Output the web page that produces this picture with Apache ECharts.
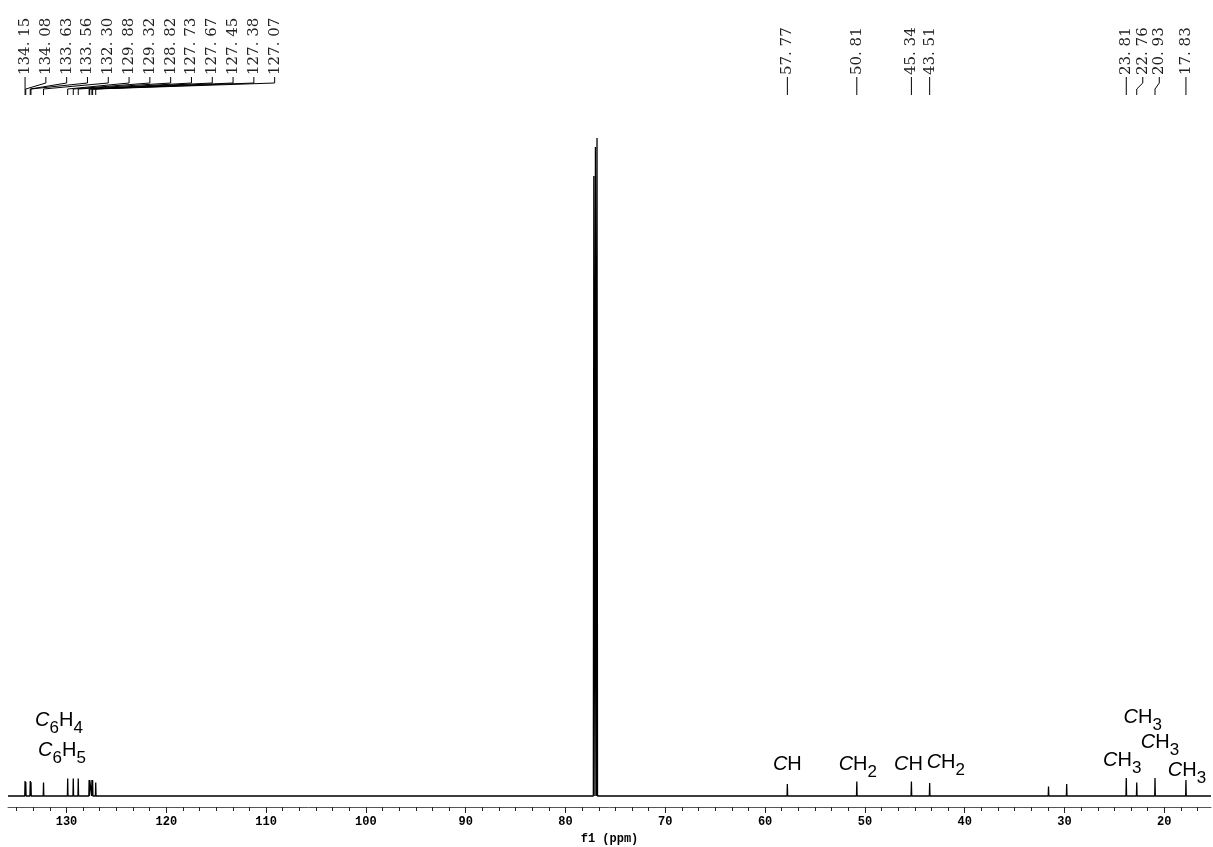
<!DOCTYPE html>
<html>
<head>
<meta charset="utf-8">
<script src="https://cdn.jsdelivr.net/npm/echarts@6/dist/echarts.min.js"></script>
<style>
  html, body { margin: 0; padding: 0; background: #fff; }
  #chart { width: 1213px; height: 847px; }
</style>
</head>
<body>
<div id="chart"></div>
<script>
// 13C NMR (CDCl3) peak list: chemical shifts in ppm and peak heights (arbitrary units)
const aromaticShifts  = [134.15, 134.08, 133.63, 133.56, 132.30, 129.88, 129.32, 128.82, 127.73, 127.67, 127.45, 127.38, 127.07];
const aromaticHeights = [15, 14, 15, 14, 13.5, 17.5, 17.5, 17.5, 16, 16, 16, 16, 13.5];
const aliphaticShifts  = [57.77, 50.81, 45.34, 43.51, 23.81, 22.76, 20.93, 17.83];
const aliphaticHeights = [12, 14.5, 14.5, 13, 18, 13.5, 18, 16];
const solventShifts  = [77.16, 77.00, 76.84];
const solventHeights = [619, 648, 657];
const impurityShifts  = [31.60, 29.78];
const impurityHeights = [9.5, 12];
const xTickLabels = [130, 120, 110, 100, 90, 80, 70, 60, 50, 40, 30, 20];

// group assignments written under the baseline
const groupNames = ['C6H4', 'C6H5', 'CH', 'CH2', 'CH', 'CH2', 'CH3', 'CH3', 'CH3', 'CH3'];
const groupPeaks = [134.15, 134.15, 57.77, 50.81, 45.34, 43.51, 23.81, 22.76, 20.93, 17.83];

const X_MIN = 15.32, X_MAX = 135.86;

// spectrum trace: a narrow spike for every peak on a flat baseline
function buildTrace() {
  const peaks = [];
  const add = (s, h, hw) => s.forEach((v, i) => peaks.push([v, h[i], hw]));
  add(aromaticShifts, aromaticHeights, 0.03);
  add(aliphaticShifts, aliphaticHeights, 0.03);
  add(solventShifts, solventHeights, 0.05);
  add(impurityShifts, impurityHeights, 0.03);
  peaks.sort((a, b) => a[0] - b[0]);
  const pts = [[X_MIN, 0]];
  peaks.forEach(([v, h, hw]) => {
    pts.push([v - hw, 0], [v, h], [v + hw, 0]);
  });
  pts.push([X_MAX, 0]);
  return pts;
}

// minor ticks every 10/6 ppm between the labelled ticks
const minorTicks = [];
for (let j = -20; j <= 80; j++) {
  const v = 130 - j * 10 / 6;
  if (j % 6 !== 0 && v > X_MIN && v < X_MAX) minorTicks.push(+v.toFixed(4));
}

const chart = echarts.init(document.getElementById('chart'), null, { renderer: 'canvas' });

const axisFont = { fontFamily: 'Liberation Mono', fontWeight: 'bold', fontSize: 12, color: '#000' };

chart.setOption({
  animation: false,
  backgroundColor: '#fff',
  grid: { left: 8, right: 2, top: 125, bottom: 40, containLabel: false, outerBoundsMode: 'none' },
  xAxis: [
    {
      type: 'value', inverse: true, min: X_MIN, max: X_MAX, position: 'bottom',
      name: 'f1 (ppm)', nameLocation: 'middle', nameGap: 25,
      nameTextStyle: axisFont,
      axisLine: { show: true, onZero: false, lineStyle: { color: '#555', width: 1 } },
      axisTick: { show: true, customValues: xTickLabels, length: 6, lineStyle: { color: '#222' } },
      axisLabel: { show: true, customValues: xTickLabels, margin: 9, ...axisFont },
      splitLine: { show: false }
    },
    {
      type: 'value', inverse: true, min: X_MIN, max: X_MAX, position: 'bottom',
      axisLine: { show: false, onZero: false },
      axisTick: { show: true, customValues: minorTicks, length: 4, lineStyle: { color: '#222' } },
      axisLabel: { show: false },
      splitLine: { show: false }
    }
  ],
  yAxis: { type: 'value', min: -11, max: 670, show: false },
  series: [{
    type: 'line', xAxisIndex: 0, yAxisIndex: 0,
    data: buildTrace(), symbol: 'none', silent: true,
    lineStyle: { color: '#000', width: 1.3 }
  }]
});

// peak labels along the top with leader lines down to each peak
const px = v => chart.convertToPixel({ gridIndex: 0 }, [v, 0])[0];
const graphics = [];

function spread(list, gap) {
  const out = [];
  let prev = -Infinity;
  list.forEach(p => { const q = Math.max(p, prev + gap); out.push(q); prev = q; });
  return out;
}

function peakLabels(shifts, gap) {
  const peakX = shifts.map(px);
  const labelX = spread(peakX, gap);
  shifts.forEach((v, i) => {
    graphics.push({
      type: 'text', x: labelX[i], y: 75, rotation: Math.PI / 2,
      style: {
        text: v.toFixed(2).replace('.', '. '),
        font: '15px "DejaVu Serif"', fill: '#222',
        align: 'left', verticalAlign: 'middle',
        textAlign: 'left', textVerticalAlign: 'middle'
      }
    });
    graphics.push({
      type: 'polyline',
      shape: { points: [[labelX[i], 77], [labelX[i], 83], [peakX[i], 89], [peakX[i], 95]] },
      style: { stroke: '#000', lineWidth: 1, fill: null }
    });
  });
}
peakLabels(aromaticShifts, 20.8);
peakLabels(aliphaticShifts, 16.5);

// group names: italic C, subscript counts
function chem(f) {
  let out = '';
  for (let k = 0; k < f.length; k++) {
    const ch = f[k];
    if (k === 0 && ch === 'C') out += '{i|C}';
    else if (/[0-9]/.test(ch)) out += '{s|' + ch + '}';
    else out += '{n|' + ch + '}';
  }
  return out;
}
const rich = {
  i: { fontFamily: 'Liberation Sans', fontStyle: 'italic', fontSize: 20, lineHeight: 20, verticalAlign: 'top', color: '#000' },
  n: { fontFamily: 'Liberation Sans', fontSize: 20, lineHeight: 20, verticalAlign: 'top', color: '#000' },
  s: { fontFamily: 'Liberation Sans', fontSize: 17, lineHeight: 17, padding: [10, 0, 0, 0], verticalAlign: 'top', color: '#000' }
};
// placement of each group name: [dx from its peak, cap-centre y, alignment]
const groupPlace = [
  [10, 720, 'left'], [13, 750, 'left'], [0, 764, 'center'], [1, 764, 'center'], [-3, 764, 'center'],
  [-3, 762, 'left'], [-4, 760, 'center'], [6, 717, 'center'], [5, 742, 'center'], [1, 770, 'center']
];
groupNames.forEach((g, i) => {
  const [dx, cy, align] = groupPlace[i];
  graphics.push({
    type: 'text', x: px(groupPeaks[i]) + dx, y: cy - 10,
    style: { text: chem(g), rich, align, verticalAlign: 'top', textAlign: align, textVerticalAlign: 'top' }
  });
});

chart.setOption({ graphic: graphics });
</script>
</body>
</html>
